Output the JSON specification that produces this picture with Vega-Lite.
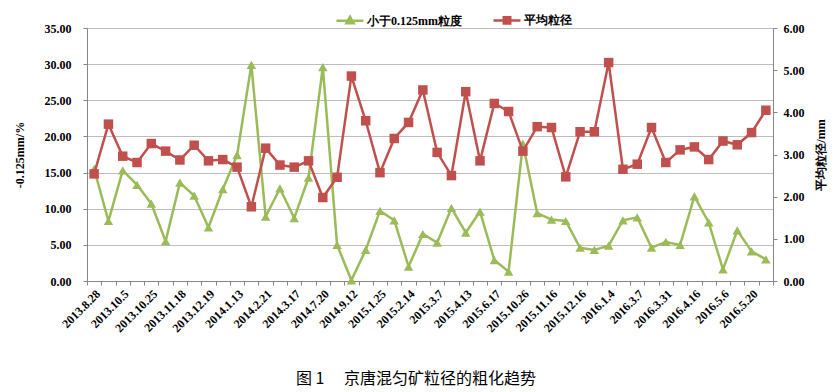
{
  "$schema": "https://vega.github.io/schema/vega-lite/v6.json",
  "width": 686,
  "height": 253,
  "autosize": {"type": "none"},
  "padding": {"left": 87, "top": 28, "right": 66, "bottom": 111},
  "background": "white",
  "config": {
    "font": "Liberation Serif",
    "view": {"stroke": null},
    "axis": {"labelFont": "Liberation Serif", "labelFontWeight": "bold", "labelColor": "#000", "titleFont": "Liberation Serif", "titleFontWeight": "bold", "titleColor": "#000", "domainColor": "#868686", "tickColor": "#868686", "gridColor": "#bdbdbd"}
  },
  "title": {"text": "图\u00a01\u3000\u00a0京唐混匀矿粒径的粗化趋势", "orient": "bottom", "anchor": "middle", "font": "Noto Sans CJK SC", "fontWeight": "normal", "fontSize": 16, "color": "#000", "offset": 37, "dx": -14},
  "data": {"values": [
    {"date": "2013.8.28", "fine": 15.5, "mean": 2.54},
    {"date": "#1", "fine": 8.3, "mean": 3.72},
    {"date": "2013.10.5", "fine": 15.3, "mean": 2.96},
    {"date": "#3", "fine": 13.3, "mean": 2.81},
    {"date": "2013.10.25", "fine": 10.7, "mean": 3.26},
    {"date": "#5", "fine": 5.5, "mean": 3.08},
    {"date": "2013.11.18", "fine": 13.6, "mean": 2.87},
    {"date": "#7", "fine": 11.8, "mean": 3.22},
    {"date": "2013.12.19", "fine": 7.4, "mean": 2.85},
    {"date": "#9", "fine": 12.7, "mean": 2.88},
    {"date": "2014.1.13", "fine": 17.4, "mean": 2.70},
    {"date": "#11", "fine": 29.9, "mean": 1.76},
    {"date": "2014.2.21", "fine": 8.9, "mean": 3.15},
    {"date": "#13", "fine": 12.8, "mean": 2.75},
    {"date": "2014.3.17", "fine": 8.7, "mean": 2.70},
    {"date": "#15", "fine": 14.3, "mean": 2.85},
    {"date": "2014.7.20", "fine": 29.6, "mean": 1.98},
    {"date": "#17", "fine": 5.0, "mean": 2.46},
    {"date": "2014.9.12", "fine": 0.1, "mean": 4.86},
    {"date": "#19", "fine": 4.3, "mean": 3.80},
    {"date": "2015.1.25", "fine": 9.7, "mean": 2.57},
    {"date": "#21", "fine": 8.4, "mean": 3.38},
    {"date": "2015.2.14", "fine": 2.0, "mean": 3.76},
    {"date": "#23", "fine": 6.5, "mean": 4.53},
    {"date": "2015.3.7", "fine": 5.3, "mean": 3.05},
    {"date": "#25", "fine": 10.1, "mean": 2.50},
    {"date": "2015.4.13", "fine": 6.7, "mean": 4.49},
    {"date": "#27", "fine": 9.6, "mean": 2.85},
    {"date": "2015.6.17", "fine": 2.9, "mean": 4.21},
    {"date": "#29", "fine": 1.3, "mean": 4.02},
    {"date": "2015.10.26", "fine": 19.0, "mean": 3.08},
    {"date": "#31", "fine": 9.4, "mean": 3.66},
    {"date": "2015.11.16", "fine": 8.5, "mean": 3.64},
    {"date": "#33", "fine": 8.3, "mean": 2.47},
    {"date": "2015.12.16", "fine": 4.6, "mean": 3.54},
    {"date": "#35", "fine": 4.3, "mean": 3.54},
    {"date": "2016.1.4", "fine": 4.9, "mean": 5.18},
    {"date": "#37", "fine": 8.4, "mean": 2.65},
    {"date": "2016.3.7", "fine": 8.8, "mean": 2.77},
    {"date": "#39", "fine": 4.6, "mean": 3.64},
    {"date": "2016.3.31", "fine": 5.4, "mean": 2.81},
    {"date": "#41", "fine": 5.0, "mean": 3.11},
    {"date": "2016.4.16", "fine": 11.7, "mean": 3.18},
    {"date": "#43", "fine": 8.1, "mean": 2.88},
    {"date": "2016.5.6", "fine": 1.6, "mean": 3.32},
    {"date": "#45", "fine": 7.0, "mean": 3.23},
    {"date": "2016.5.20", "fine": 4.1, "mean": 3.52},
    {"date": "#47", "fine": 3.0, "mean": 4.05}
  ]},
  "encoding": {
    "x": {"field": "date", "type": "ordinal", "sort": null, "title": null,
      "axis": {"tickBand": "extent", "labelAngle": -45, "labelFontSize": 12, "labelPadding": 3, "tickSize": 4, "labelExpr": "indexof(datum.label, '#') == 0 ? '' : datum.label", "labelOverlap": false, "grid": false}}
  },
  "layer": [
    {
      "encoding": {
        "y": {"field": "fine", "type": "quantitative", "scale": {"domain": [0, 35], "nice": false},
          "axis": {"title": "-0.125mm/%", "values": [0, 5, 10, 15, 20, 25, 30, 35], "format": ".2f", "labelFontSize": 12, "tickSize": 4, "labelPadding": 12, "titlePadding": 18, "titleFontSize": 12, "grid": true}}
      },
      "layer": [
        {"mark": {"type": "line", "strokeWidth": 2.5},
          "encoding": {
            "color": {"datum": "小于0.125mm粒度", "type": "nominal", "scale": {"domain": ["小于0.125mm粒度", "平均粒径"], "range": ["#9BBB59", "#C0504D"]},
              "legend": {"title": null, "orient": "none", "legendX": 248, "legendY": -23, "direction": "horizontal", "labelFont": "Liberation Serif", "labelFontWeight": "bold", "labelFontSize": 12, "labelColor": "#000", "labelOffset": 2, "symbolSize": 729, "symbolStrokeWidth": 2.5, "columnPadding": 26,
                "encode": {"symbols": {"update": {
                  "fill": {"scale": "color", "field": "value"},
                  "stroke": {"scale": "color", "field": "value"},
                  "shape": {"signal": "datum.value == '平均粒径' ? 'M-1,0H1M-0.24,-0.24H0.24V0.24H-0.24Z' : 'M-1,0H1M0,-0.3L0.27,0.18H-0.27Z'"}
                }}}}}
          }},
        {"mark": {"type": "point", "filled": true, "opacity": 1, "size": 90, "shape": "triangle-up"},
          "encoding": {
            "color": {"datum": "小于0.125mm粒度", "type": "nominal"}
          }}
      ]
    },
    {
      "encoding": {
        "y": {"field": "mean", "type": "quantitative", "scale": {"domain": [0, 6], "nice": false},
          "axis": {"orient": "right", "title": "平均粒径/mm", "titleAngle": 270, "titleBaseline": "top", "values": [0, 1, 2, 3, 4, 5, 6], "format": ".2f", "labelFontSize": 12, "tickSize": 4, "labelPadding": 6, "titlePadding": 11, "titleFontSize": 12, "grid": false}}
      },
      "layer": [
        {"mark": {"type": "line", "strokeWidth": 2.5},
          "encoding": {"color": {"datum": "平均粒径", "type": "nominal"}}},
        {"mark": {"type": "point", "filled": true, "opacity": 1, "size": 90, "shape": "square"},
          "encoding": {
            "color": {"datum": "平均粒径", "type": "nominal"}
          }}
      ]
    }
  ],
  "resolve": {"scale": {"y": "independent"}}
}
